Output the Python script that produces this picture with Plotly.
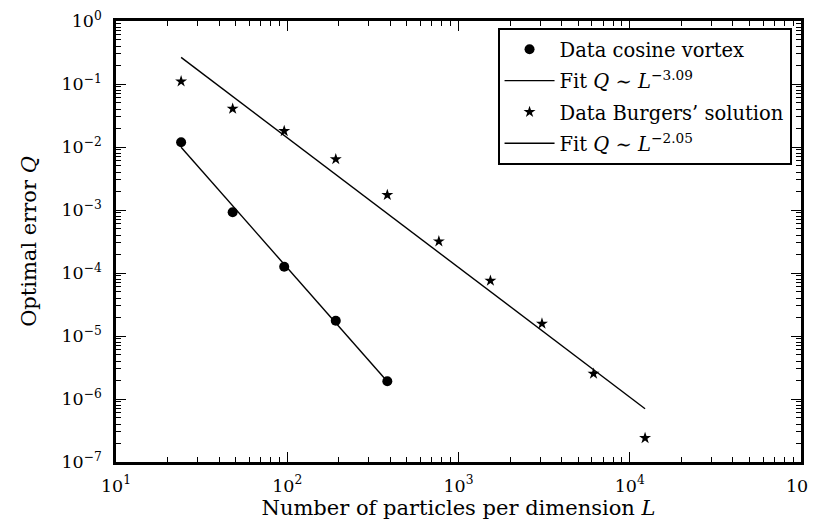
import plotly.graph_objects as go

# ---- data ----
L_cos = [24, 48, 96, 192, 384]
Q_cos = [1.19e-2, 9.2e-4, 1.26e-4, 1.75e-5, 1.91e-6]
L_fit_cos = [24, 384]
Q_fit_cos = [9.9e-3, 1.9e-6]

L_burg = [24, 48, 96, 192, 384, 768, 1536, 3072, 6144, 12288]
Q_burg = [0.110, 0.0405, 0.0179, 6.4e-3, 1.73e-3, 3.18e-4, 7.55e-5, 1.57e-5, 2.52e-6, 2.4e-7]
L_fit_burg = [24, 12288]
Q_fit_burg = [0.265, 7.0e-7]

x_exps = [1, 2, 3, 4, 5]
y_exps = [-7, -6, -5, -4, -3, -2, -1, 0]

FONT = "DejaVu Serif"


def sup(e):
    s = str(e).replace("-", "\u2212")
    return f"10<sup>{s}</sup>"


def minor_vals(lo, hi):
    vals = []
    for e in range(lo, hi):
        for m in range(2, 10):
            vals.append(m * 10.0 ** e)
    return vals


fig = go.Figure()
fig.add_trace(go.Scatter(
    x=L_cos, y=Q_cos, mode="markers", name="Data cosine vortex",
    marker=dict(symbol="circle", size=10, color="black"), legendgroup="a"))
fig.add_trace(go.Scatter(
    x=L_fit_cos, y=Q_fit_cos, mode="lines",
    name="Fit <i>Q</i> \u223c <i>L</i><sup>\u22123.09</sup>",
    line=dict(color="black", width=1.4), legendgroup="b"))
fig.add_trace(go.Scatter(
    x=L_burg, y=Q_burg, mode="markers", name="Data Burgers\u2019 solution",
    marker=dict(symbol="star", size=9, color="black"), legendgroup="c"))
fig.add_trace(go.Scatter(
    x=L_fit_burg, y=Q_fit_burg, mode="lines",
    name="Fit <i>Q</i> \u223c <i>L</i><sup>\u22122.05</sup>",
    line=dict(color="black", width=1.4), legendgroup="d"))

axis_common = dict(
    type="log", showgrid=False, zeroline=False, automargin=False,
    showline=True, linecolor="black", linewidth=2.5, mirror="allticks",
    ticks="inside", ticklen=10, tickwidth=1, tickcolor="black",
    tickfont=dict(family=FONT, size=17.5, color="black"),
    ticklabeloverflow="allow",
)

fig.update_xaxes(
    **axis_common,
    range=[1, 5],
    tickmode="array", tickvals=[10.0 ** e for e in x_exps],
    ticktext=[sup(e) for e in x_exps],
    minor=dict(tickmode="array", tickvals=minor_vals(1, 5), ticks="inside",
               ticklen=5, tickwidth=1, tickcolor="black", showgrid=False),
    title=dict(text="Number of particles per dimension <i>L</i>",
               font=dict(family=FONT, size=21, color="black"), standoff=2),
    ticklabelstandoff=6,
)
fig.update_yaxes(
    **axis_common,
    range=[-7, 0],
    tickmode="array", tickvals=[10.0 ** e for e in y_exps],
    ticktext=[sup(e) for e in y_exps],
    minor=dict(tickmode="array", tickvals=minor_vals(-7, 0), ticks="inside",
               ticklen=5, tickwidth=1, tickcolor="black", showgrid=False),
    title=dict(text="Optimal error <i>Q</i>",
               font=dict(family=FONT, size=21, color="black"), standoff=20),
    ticklabelstandoff=8,
)

fig.update_layout(
    width=817, height=524, autosize=False,
    margin=dict(l=108, r=24, t=13, b=70),
    paper_bgcolor="white", plot_bgcolor="white",
    font=dict(family=FONT, color="black"),
    legend=dict(
        x=0.557, y=0.984, xanchor="left", yanchor="top",
        bgcolor="white", bordercolor="black", borderwidth=2,
        font=dict(family=FONT, size=19.5, color="black"),
        itemwidth=50, tracegroupgap=3,
    ),
    showlegend=True,
)

fig.write_html("out.html")
